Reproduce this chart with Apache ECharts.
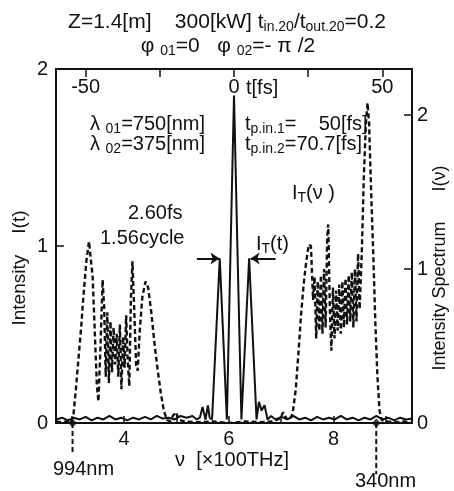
<!DOCTYPE html>
<html>
<head>
<meta charset="utf-8">
<script src="https://cdn.jsdelivr.net/npm/echarts@6/dist/echarts.min.js"></script>
<style>
html,body{margin:0;padding:0;background:#fff;}
#chart{width:454px;height:491px;}
</style>
</head>
<body>
<div id="chart"></div>
<script>
// ---- data ----
// Spectrum I_T(nu): [nu (x100 THz), intensity spectrum]
const spectrumNu = [2.70,2.80,2.90,2.97,3.03,3.08,3.13,3.18,3.23,3.28,3.33,3.36,3.40,3.44,3.48,3.51,3.55,3.59,3.62,3.65,3.68,3.71,3.74,3.77,3.80,3.83,3.86,3.89,3.92,3.95,3.98,4.01,4.04,4.07,4.10,4.13,4.16,4.19,4.23,4.26,4.30,4.35,4.41,4.46,4.52,4.58,4.64,4.70,4.76,4.82,4.88,4.94,4.99,5.05,5.15,5.40,5.70,6.00,6.30,6.60,6.85,6.98,7.04,7.10,7.16,7.22,7.28,7.33,7.38,7.43,7.48,7.53,7.57,7.61,7.64,7.67,7.70,7.73,7.76,7.79,7.82,7.85,7.88,7.90,7.93,7.96,7.99,8.02,8.05,8.08,8.11,8.14,8.17,8.20,8.23,8.26,8.29,8.32,8.35,8.38,8.41,8.44,8.47,8.50,8.54,8.58,8.62,8.65,8.68,8.72,8.76,8.80,8.84,8.88,8.92,9.00,9.20,9.35,9.50];
const spectrumVal = [0.01,0.005,0.01,0.0,0.04,0.22,0.42,0.62,0.85,1.05,1.18,1.17,0.95,0.6,0.25,0.14,0.5,0.93,0.75,0.3,0.72,0.26,0.66,0.33,0.62,0.38,0.58,0.3,0.64,0.22,0.56,0.36,0.7,0.4,0.24,0.8,1.05,0.78,0.38,0.34,0.6,0.82,0.92,0.88,0.72,0.52,0.35,0.2,0.08,0.02,0.01,0.05,0.07,0.02,0.01,0.005,0.01,0.0,0.01,0.005,0.01,0.03,0.07,0.03,0.02,0.06,0.22,0.45,0.7,0.9,1.05,1.16,1.15,0.8,0.95,0.55,0.92,0.6,0.96,0.58,1.0,0.62,1.2,1.29,0.75,0.47,0.88,0.55,0.86,0.6,0.9,0.58,0.92,0.62,0.94,0.64,0.96,0.66,0.98,0.62,1.0,0.66,1.1,0.74,1.1,1.6,1.95,2.08,1.95,1.5,1.1,0.65,0.3,0.08,0.02,0.01,0.005,0.01,0.0];
// Temporal intensity I_T(t): [t (fs), intensity]
const timeT = [-60,-58,-56,-54,-52,-50,-48,-46,-44,-42,-40,-38,-36,-34,-32,-30,-28,-26,-24,-22,-20,-18,-16,-14,-12.5,-11.5,-10.6,-9.6,-8.8,-8.2,-7.4,-4.8,-2.4,-1.2,0,1.2,2.5,5.1,7.6,8.4,9.3,10.3,11.3,12.5,14,16,18,20,22,24,26,28,30,32,34,36,38,40,42,44,46,48,50,52,54,56,58,60];
const timeVal = [0.02,0.03,0.015,0.03,0.02,0.035,0.015,0.03,0.02,0.04,0.02,0.03,0.015,0.03,0.02,0.035,0.02,0.04,0.025,0.03,0.02,0.04,0.03,0.04,0.02,0.03,0.09,0.02,0.1,0.03,0.02,0.93,0.02,0.95,1.85,0.95,0.02,0.93,0.02,0.12,0.07,0.1,0.02,0.04,0.02,0.035,0.02,0.04,0.02,0.03,0.015,0.035,0.02,0.03,0.02,0.04,0.02,0.03,0.015,0.03,0.02,0.04,0.02,0.03,0.015,0.03,0.02,0.025];
// Wavelength markers (nu in x100 THz)
const markerNu = [3.016, 8.817];
const markerBottom = [-0.18, -0.29];
const markerLabels = ['994nm', '340nm'];
// FWHM arrows on time axis
const fwhmLevel = 0.93;
const fwhmLeft = [-12.5, -4.9];
const fwhmRight = [14.0, 5.6];
// ticks
const nuLabels = [4, 6, 8];
const tLabels = [-50, 0, 50];
const leftYTicks = [0, 1, 2];
const rightYTicks = [0, 1, 2];

const FONT = "'Liberation Sans', Arial, sans-serif";
const FS = 20;
const chart = echarts.init(document.getElementById('chart'), null, {renderer: 'canvas'});

function zip(a, b) { return a.map((v, i) => [v, b[i]]); }

const axisLineStyle = {color: '#111', width: 2};
const sub = {fontSize: 14, lineHeight: 14, verticalAlign: 'bottom', fontFamily: FONT, color: '#111'};
const mainRich = {fontSize: FS, lineHeight: 24, fontFamily: FONT, color: '#111'};

function txt(x, y, text, align, size, rot) {
  return {
    type: 'text', x: x, y: y, rotation: rot || 0,
    style: {
      text: text, align: align || 'left', verticalAlign: 'middle',
      font: (size || FS) + 'px ' + FONT, fill: '#111',
      rich: {
        m: Object.assign({}, mainRich, size ? {fontSize: size, lineHeight: size + 4} : {}),
        s: sub
      }
    }
  };
}

const markerSeries = markerNu.map((nu, i) => ({
  type: 'line', xAxisIndex: 0, yAxisIndex: 0, clip: false, symbol: 'none', silent: true,
  data: [[nu, 0], [nu, markerBottom[i]]],
  lineStyle: {color: '#111', width: 2, type: [5, 3]}, z: 3
}));

const option = {
  animation: false,
  backgroundColor: '#fff',
  grid: {left: 56, right: 42, top: 69, bottom: 68, containLabel: false, outerBoundsMode: 'none'},
  xAxis: [
    {
      type: 'value', position: 'bottom', min: 2.7, max: 9.5,
      splitNumber: 7, minInterval: 1, maxInterval: 1,
      axisLine: {show: true, onZero: false, lineStyle: axisLineStyle},
      axisTick: {show: true, inside: true, length: 7, lineStyle: {color: '#111', width: 1.5}},
      axisLabel: {
        color: '#111', fontSize: FS, fontFamily: FONT, margin: 6,
        showMinLabel: false, showMaxLabel: false,
        formatter: v => nuLabels.indexOf(Math.round(v * 1000) / 1000) >= 0 ? String(v) : ''
      },
      splitLine: {show: false}
    },
    {
      type: 'value', position: 'top', min: -60, max: 60,
      splitNumber: 5, minInterval: 25, maxInterval: 25,
      axisLine: {show: true, onZero: false, lineStyle: axisLineStyle},
      axisTick: {show: true, inside: true, length: 8, lineStyle: {color: '#111', width: 1.5}},
      axisLabel: {
        inside: true, color: '#111', fontSize: FS, fontFamily: FONT, margin: 8,
        showMinLabel: false, showMaxLabel: false,
        formatter: v => tLabels.indexOf(v) >= 0 ? String(v) : ''
      },
      splitLine: {show: false}
    }
  ],
  yAxis: [
    {
      type: 'value', position: 'left', min: 0, max: 2, interval: 1,
      axisLine: {show: true, onZero: false, lineStyle: axisLineStyle},
      axisTick: {show: true, inside: true, length: 8, lineStyle: {color: '#111', width: 1.5}},
      axisLabel: {color: '#111', fontSize: FS, fontFamily: FONT, margin: 8,
        formatter: v => leftYTicks.indexOf(v) >= 0 ? String(v) : ''},
      splitLine: {show: false}
    },
    {
      type: 'value', position: 'right', min: 0, max: 2.3, interval: 1,
      axisLine: {show: true, onZero: false, lineStyle: axisLineStyle},
      axisTick: {show: true, inside: true, length: 8, lineStyle: {color: '#111', width: 1.5}},
      axisLabel: {color: '#111', fontSize: FS, fontFamily: FONT, margin: 5,
        showMaxLabel: false,
        formatter: v => rightYTicks.indexOf(v) >= 0 ? String(v) : ''},
      splitLine: {show: false}
    }
  ],
  series: [
    {
      name: 'spectrum', type: 'line', xAxisIndex: 0, yAxisIndex: 1,
      data: zip(spectrumNu, spectrumVal), symbol: 'none', smooth: false,
      lineStyle: {color: '#111', width: 2.4, type: [5, 3]}, z: 2
    },
    {
      name: 'time', type: 'line', xAxisIndex: 1, yAxisIndex: 0,
      data: zip(timeT, timeVal), symbol: 'none',
      lineStyle: {color: '#111', width: 2}, z: 4,
      markLine: {
        silent: true, symbol: ['none', 'arrow'], symbolSize: 9, label: {show: false},
        lineStyle: {color: '#111', width: 2, type: 'solid'},
        data: [
          [{coord: [fwhmLeft[0], fwhmLevel]}, {coord: [fwhmLeft[1], fwhmLevel]}],
          [{coord: [fwhmRight[0], fwhmLevel]}, {coord: [fwhmRight[1], fwhmLevel]}]
        ]
      }
    },
    ...markerSeries,
    {
      type: 'scatter', xAxisIndex: 0, yAxisIndex: 0, clip: false, silent: true,
      data: markerNu.map(nu => [nu, 0]), symbol: 'diamond', symbolSize: 9,
      itemStyle: {color: '#111'}, z: 5
    }
  ],
  graphic: [
    txt(227, 22, '{m|Z=1.4[m]    300[kW] t}{s|in.20}{m|/t}{s|out.20}{m|=0.2}', 'center', 21),
    txt(228, 46, '{m|φ }{s|01}{m|=0   φ }{s|02}{m|=- π /2}', 'center', 21),
    txt(20, 268, '{m|Intensity    I(t)}', 'center', 19, Math.PI / 2),
    txt(440, 268, '{m|Intensity Spectrum      I(ν)}', 'center', 18, Math.PI / 2),
    txt(232, 460, 'ν  [×100THz]', 'center'),
    txt(246, 88, 't[fs]'),
    txt(90, 124, '{m|λ }{s|01}{m|=750[nm]}'),
    txt(90, 144, '{m|λ }{s|02}{m|=375[nm]}'),
    txt(245, 124, '{m|t}{s|p.in.1}{m|=    50[fs]}'),
    txt(245, 144, '{m|t}{s|p.in.2}{m|=70.7[fs]}'),
    txt(292, 193, '{m|I}{s|T}{m|(ν )}'),
    txt(128, 213, '2.60fs'),
    txt(100, 238, '1.56cycle'),
    txt(256, 244, '{m|I}{s|T}{m|(t)}'),
    txt(53, 469, markerLabels[0]),
    txt(355, 481, markerLabels[1])
  ]
};
chart.setOption(option);
</script>
</body>
</html>
